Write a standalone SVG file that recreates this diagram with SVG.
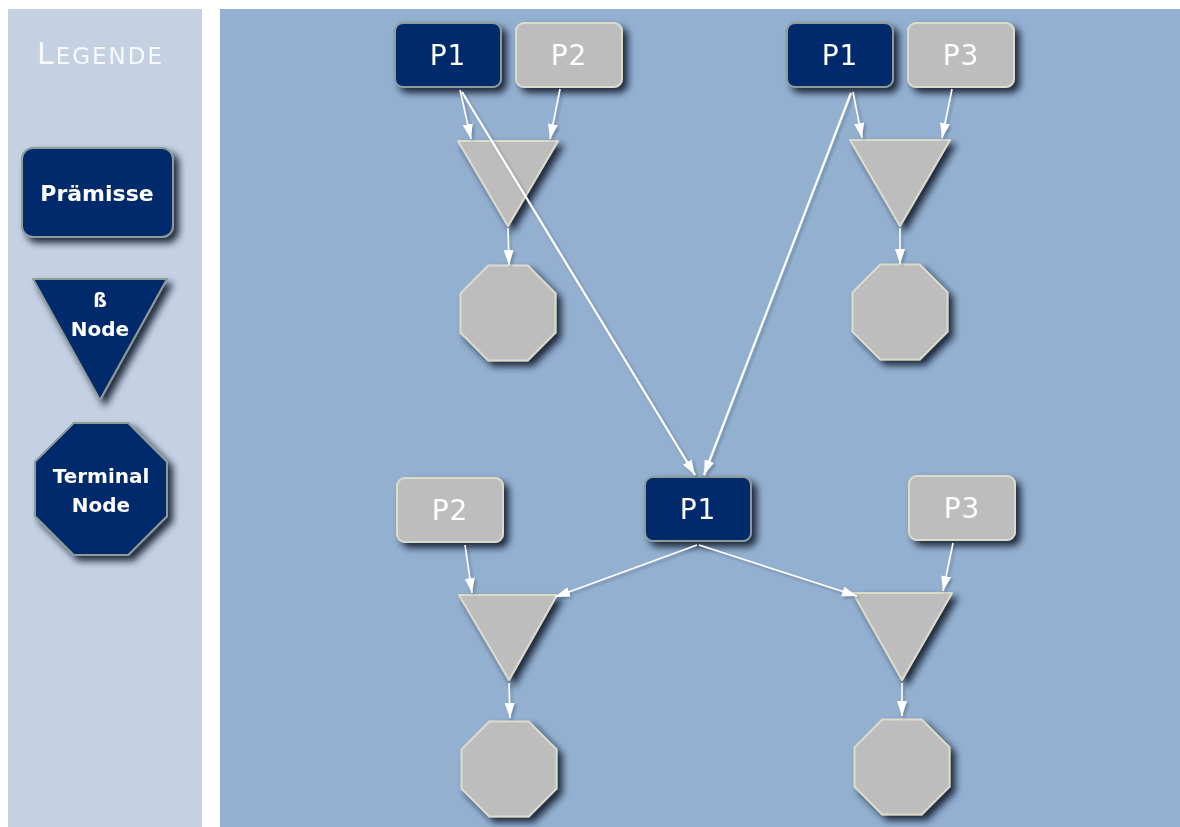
<svg xmlns="http://www.w3.org/2000/svg" width="1180" height="827" viewBox="0 0 1180 827">
  <style>
    .prem { fill: #012a6c; stroke: #8e9c98; stroke-width: 2; }
    .grey { fill: #bdbdbd; stroke: #dcdccb; stroke-width: 2; }
    .beta { fill: #bdbdbd; stroke: #dcdccb; stroke-width: 2; stroke-linejoin: round; }
    .lbl { font-family: "DejaVu Sans", Verdana, sans-serif; fill: #ffffff; text-anchor: middle; }
    .p { font-size: 28px; letter-spacing: 1px; }
    .leg { font-weight: bold; }
    .edge { stroke: #ffffff; stroke-width: 1.6; fill: none; }
    .edge.long { stroke-width: 2.2; }
  </style>
  <defs>
    <filter id="shadow" x="-20%" y="-20%" width="150%" height="150%">
      <feGaussianBlur in="SourceAlpha" stdDeviation="3.5"/>
      <feOffset dx="5" dy="5" result="blur"/>
      <feFlood flood-color="#101c2e" flood-opacity="0.9"/>
      <feComposite in2="blur" operator="in"/>
      <feMerge>
        <feMergeNode/>
        <feMergeNode in="SourceGraphic"/>
      </feMerge>
    </filter>
    <filter id="soft" x="-20%" y="-20%" width="150%" height="150%">
      <feGaussianBlur in="SourceAlpha" stdDeviation="1.5"/>
      <feOffset dx="2" dy="2" result="blur"/>
      <feFlood flood-color="#14233a" flood-opacity="0.3"/>
      <feComposite in2="blur" operator="in"/>
      <feMerge>
        <feMergeNode/>
        <feMergeNode in="SourceGraphic"/>
      </feMerge>
    </filter>
    <filter id="glow" x="-10%" y="-30%" width="120%" height="160%">
      <feGaussianBlur in="SourceGraphic" stdDeviation="0.6"/>
    </filter>
    <marker id="arrow" markerUnits="userSpaceOnUse" markerWidth="17" markerHeight="11" refX="15" refY="5" orient="auto">
      <path d="M0,0 L15,5 L0,10 z" fill="#ffffff"/>
    </marker>
    <polygon id="oct" points="-19.7,-47.5 19.7,-47.5 47.5,-19.7 47.5,19.7 19.7,47.5 -19.7,47.5 -47.5,19.7 -47.5,-19.7"/>
  </defs>

  <!-- page and panels -->
  <rect x="0" y="0" width="1180" height="827" fill="#ffffff"/>
  <rect x="8" y="9" width="194" height="818" fill="#c4d1e3"/>
  <rect x="220" y="9" width="960" height="818" fill="#94b0d0"/>

  <!-- legend -->
  <g id="legend">
    <text x="37" y="64" font-family="DejaVu Sans, Verdana, sans-serif" fill="#f7f9fc" letter-spacing="2" filter="url(#glow)"><tspan font-size="30">L</tspan><tspan font-size="23">EGENDE</tspan></text>
    <g id="legend-premise" filter="url(#shadow)">
      <rect class="prem" x="22" y="148" width="151" height="89" rx="11"/>
      <text class="lbl leg" x="97" y="201" style="font-size:22px">Prämisse</text>
    </g>
    <g id="legend-beta" filter="url(#shadow)">
      <polygon class="prem" points="33,279 167,279 100,400" stroke-linejoin="round"/>
      <text class="lbl leg" x="100" y="307" style="font-size:19px">ß</text>
      <text class="lbl leg" x="100" y="336" style="font-size:20px">Node</text>
    </g>
    <g id="legend-terminal" filter="url(#shadow)">
      <polygon class="prem" points="-27.3,-66 27.3,-66 66,-27.3 66,27.3 27.3,66 -27.3,66 -66,27.3 -66,-27.3" transform="translate(101,489)"/>
      <text class="lbl leg" x="101" y="483" style="font-size:20px">Terminal</text>
      <text class="lbl leg" x="101" y="512" style="font-size:20px">Node</text>
    </g>
  </g>

  <!-- top left network -->
  <g id="p1-top-left" filter="url(#shadow)">
    <rect class="prem" x="395" y="23" width="106" height="64" rx="8"/>
    <text class="lbl p" x="448" y="65">P1</text>
  </g>
  <g id="p2-top-left" filter="url(#shadow)">
    <rect class="grey" x="516" y="23" width="106" height="64" rx="8"/>
    <text class="lbl p" x="569" y="65">P2</text>
  </g>
  <g id="beta-top-left" filter="url(#shadow)">
    <polygon class="beta" points="458,141 558,141 508,226"/>
  </g>
  <g id="terminal-top-left" filter="url(#shadow)">
    <use href="#oct" class="grey" transform="translate(508,313)"/>
  </g>

  <!-- top right network -->
  <g id="p1-top-right" filter="url(#shadow)">
    <rect class="prem" x="787" y="23" width="106" height="64" rx="8"/>
    <text class="lbl p" x="840" y="65">P1</text>
  </g>
  <g id="p3-top-right" filter="url(#shadow)">
    <rect class="grey" x="908" y="23" width="106" height="64" rx="8"/>
    <text class="lbl p" x="961" y="65">P3</text>
  </g>
  <g id="beta-top-right" filter="url(#shadow)">
    <polygon class="beta" points="850,140 950,140 900,226"/>
  </g>
  <g id="terminal-top-right" filter="url(#shadow)">
    <use href="#oct" class="grey" transform="translate(900,312)"/>
  </g>

  <!-- shared premise and bottom networks -->
  <g id="p1-center" filter="url(#shadow)">
    <rect class="prem" x="645" y="477" width="106" height="64" rx="8"/>
    <text class="lbl p" x="698" y="519">P1</text>
  </g>
  <g id="p2-bottom-left" filter="url(#shadow)">
    <rect class="grey" x="397" y="478" width="106" height="64" rx="8"/>
    <text class="lbl p" x="450" y="520">P2</text>
  </g>
  <g id="p3-bottom-right" filter="url(#shadow)">
    <rect class="grey" x="909" y="476" width="106" height="64" rx="8"/>
    <text class="lbl p" x="962" y="518">P3</text>
  </g>
  <g id="beta-bottom-left" filter="url(#shadow)">
    <polygon class="beta" points="459,595 557,595 509,680"/>
  </g>
  <g id="beta-bottom-right" filter="url(#shadow)">
    <polygon class="beta" points="853,593 952,593 902,680"/>
  </g>
  <g id="terminal-bottom-left" filter="url(#shadow)">
    <use href="#oct" class="grey" transform="translate(509,769)"/>
  </g>
  <g id="terminal-bottom-right" filter="url(#shadow)">
    <use href="#oct" class="grey" transform="translate(902,767)"/>
  </g>

  <!-- connectors, drawn over the nodes they cross -->
  <g id="connectors" filter="url(#soft)">
    <line class="edge" x1="460" y1="90" x2="471" y2="139" marker-end="url(#arrow)"/>
    <line class="edge" x1="560" y1="89" x2="550" y2="139" marker-end="url(#arrow)"/>
    <line class="edge" x1="508" y1="228" x2="509" y2="265" marker-end="url(#arrow)"/>
    <line class="edge long" x1="462" y1="92" x2="695" y2="475" marker-end="url(#arrow)"/>
    <line class="edge" x1="853" y1="92" x2="862" y2="138" marker-end="url(#arrow)"/>
    <line class="edge" x1="952" y1="89" x2="942" y2="138" marker-end="url(#arrow)"/>
    <line class="edge" x1="900" y1="228" x2="900" y2="264" marker-end="url(#arrow)"/>
    <line class="edge long" x1="851" y1="93" x2="704" y2="475" marker-end="url(#arrow)"/>
    <line class="edge" x1="697" y1="545" x2="555" y2="597" marker-end="url(#arrow)"/>
    <line class="edge" x1="699" y1="545" x2="857" y2="596" marker-end="url(#arrow)"/>
    <line class="edge" x1="465" y1="545" x2="472" y2="593" marker-end="url(#arrow)"/>
    <line class="edge" x1="953" y1="543" x2="943" y2="591" marker-end="url(#arrow)"/>
    <line class="edge" x1="509" y1="683" x2="510" y2="718" marker-end="url(#arrow)"/>
    <line class="edge" x1="902" y1="683" x2="902" y2="716" marker-end="url(#arrow)"/>
  </g>
</svg>
